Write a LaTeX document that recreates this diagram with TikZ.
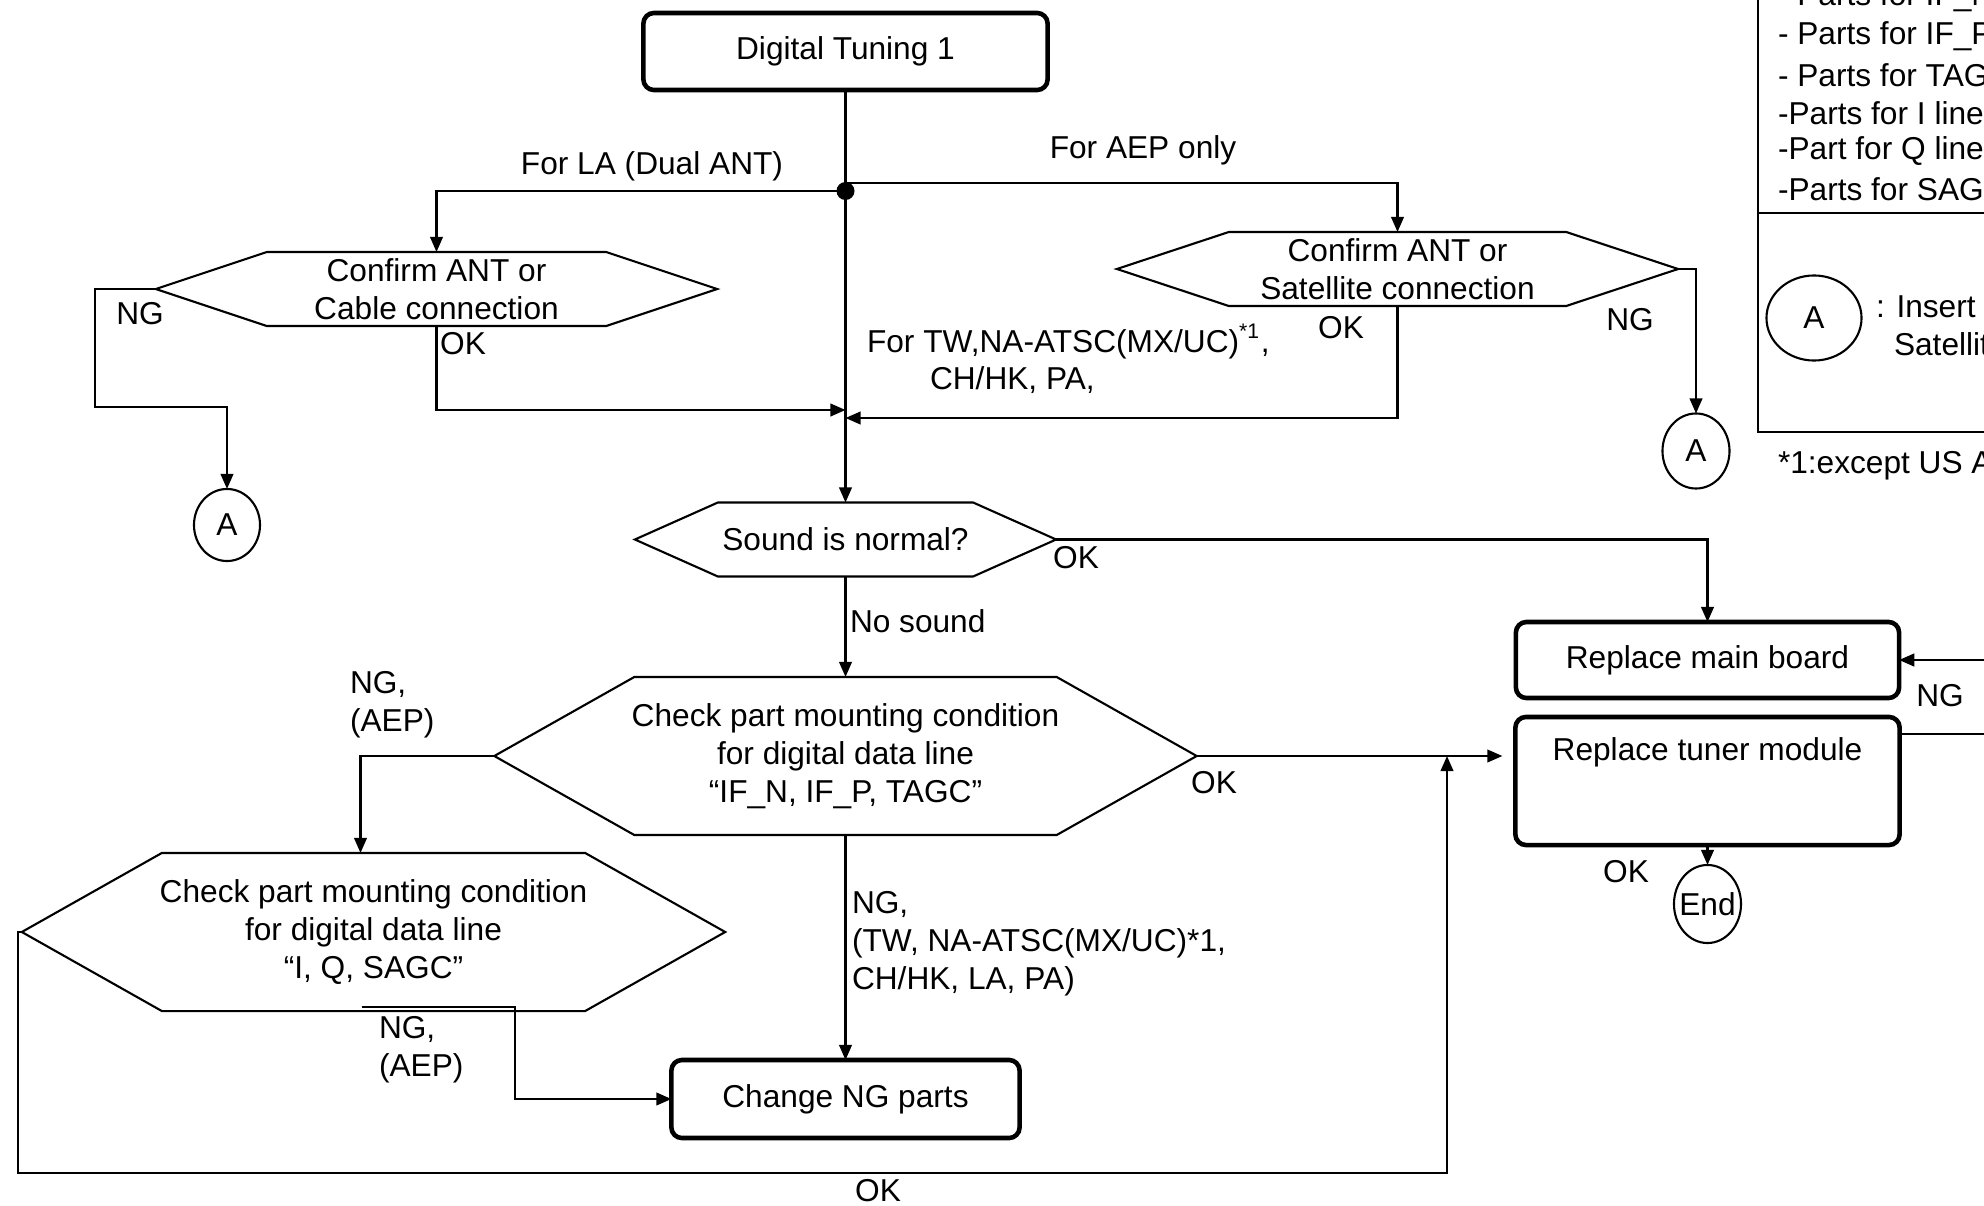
\documentclass[tikz,border=0pt]{standalone}
\usepackage{fontspec}
\setmainfont{Liberation Sans}
\usetikzlibrary{arrows.meta,calc,shapes.geometric}
\newcommand\hexpath[2]{\draw[hexline] (#1.west) -- ([xshift=#2]#1.north west) -- ([xshift=-#2]#1.north east) -- (#1.east) -- ([xshift=-#2]#1.south east) -- ([xshift=#2]#1.south west) -- cycle;}
\begin{document}
\begin{tikzpicture}[x=0.01cm,y=-0.01cm,
  every node/.style={font=\fontsize{9}{10.8}\selectfont, inner sep=0pt, outer sep=0pt},
  flow/.style={line width=0.6pt},
  hexline/.style={line width=0.6pt},
  arr/.style={flow,-{Triangle[length=4.3pt,width=3.6pt]}},
  box/.style={draw, line width=1.3pt, rounded corners=3pt, align=center},
  hexn/.style={align=center},
  conn/.style={draw, ellipse, line width=0.6pt},
  lbl/.style={align=left, anchor=west},
]
\useasboundingbox (0,0) rectangle (1984,1206);
\clip (0,0) rectangle (1984,1206);

% ---- nodes
\node[box, minimum width=4.04cm, minimum height=0.77cm] (start) at (845.5,51.5) {Digital Tuning 1};
\node[circle, fill, minimum size=0.18cm] (dot) at (845.5,191) {};

\node[hexn, minimum width=5.61cm, minimum height=0.74cm] (hexL) at (436.5,289) {Confirm ANT or\\Cable connection};
\hexpath{hexL}{1.11cm}
\node[hexn, minimum width=5.61cm, minimum height=0.74cm] (hexR) at (1397.5,269) {Confirm ANT or\\Satellite connection};
\hexpath{hexR}{1.12cm}

\node[conn, minimum width=0.66cm, minimum height=0.72cm] (cA1) at (227,525) {A};
\node[conn, minimum width=0.67cm, minimum height=0.75cm] (cA2) at (1696,451) {A};

\node[hexn, minimum width=4.21cm, minimum height=0.74cm] (sound) at (845.5,539.5) {Sound is normal?};
\hexpath{sound}{0.83cm}

\node[hexn, minimum width=7.02cm, minimum height=1.58cm] (check1) at (845.5,756) {Check part mounting condition\\for digital data line\\“IF\_N, IF\_P, TAGC”};
\hexpath{check1}{1.40cm}

\node[hexn, minimum width=7.03cm, minimum height=1.58cm] (check2) at (373.5,932) {Check part mounting condition\\for digital data line\\“I, Q, SAGC”};
\hexpath{check2}{1.40cm}

\node[box, minimum width=3.48cm, minimum height=0.78cm] (change) at (845.5,1099) {Change NG parts};

\node[box, minimum width=3.83cm, minimum height=0.76cm] (mainboard) at (1707.5,660) {Replace main board};
\node[box, minimum width=3.84cm, minimum height=1.28cm] (tuner) at (1707.5,781) {};
\node (tunertext) at (1707.5,752) {Replace tuner module};
\node[conn, minimum width=0.67cm, minimum height=0.78cm] (endc) at (1707.5,904) {};
\node (endtext) at (endc.center) {End};

% ---- connector labels
\node (lblLA) at (652,166) {For LA (Dual ANT)};
\node (lblAEP) at (1143,150) {For AEP only};
\node (ngL) at (140,314) {NG};
\node (okL) at (463,344) {OK};
\node (okR) at (1341,328) {OK};
\node (ngR) at (1630,320) {NG};
\node[anchor=base west] (tw1) at (867,352) {For TW,NA-ATSC(MX/UC)\textsuperscript{*1},};
\node[anchor=base west] (tw2) at (930,389) {CH/HK, PA,};
\node (okS) at (1076,558) {OK};
\node[lbl] (nosound) at (850,621) {No sound};
\node[lbl] (ngaep1) at (350,705) {NG,\\(AEP)};
\node[lbl] (ngaep2) at (379,1050) {NG,\\(AEP)};
\node[lbl] (ngtw) at (852,944) {NG,\\(TW, NA-ATSC(MX/UC)*1,\\CH/HK, LA, PA)};
\node (okC1) at (1214,783) {OK};
\node (okB) at (878,1191) {OK};
\node (ngMB) at (1940,696) {NG};
\node (okE) at (1626,872) {OK};

% ---- connectors
\draw[arr] (start.south) -- (sound.north);
\draw[arr] (dot.center) -| (hexL.north);
\draw[arr] ([yshift=0.08cm]dot.center) -| (hexR.north);
\draw[arr] (hexL.west) -| (95,407) -| (cA1.north);
\coordinate (m1) at (845.5,410);
\coordinate (m2) at (845.5,418);
\draw[arr] (hexL.south) |- (m1);
\draw[arr] (hexR.south) |- (m2);
\draw[arr] (hexR.east) -| (cA2.north);
\draw[arr] (sound.south) -- (check1.north);
\draw[arr] (sound.east) -| (mainboard.north);
\draw[arr, shorten >=0.13cm] (check1.east) -- (check1.east -| tuner.west);
\draw[arr] (check1.south) -- (change.north);
\draw[arr] (check1.west) -| ([xshift=-0.13cm]check2.north);
\draw[arr] ([xshift=-0.115cm,yshift=0.04cm]check2.south) -| ($(change.west)+(-156,0)$) -- (change.west);
\coordinate (okj) at (1447,756);
\draw[arr] (check2.west) -| (18,1173) -| (okj);
\draw[arr] (tuner.south) -- (endc.north);
\draw[arr] ([yshift=0.47cm]tuner.east) -- ++(150,0) |- (mainboard.east);

% ---- legend
\draw[line width=0.8pt] (1758,-30) rectangle (2100,432);
\draw[line width=0.8pt] (1758,213) -- (2100,213);
\node[lbl] (lg1) at (1778,-3) {- Parts for IF\_N};
\node[lbl] (lg2) at (1778,36) {- Parts for IF\_P};
\node[lbl] (lg3) at (1778,75) {- Parts for TAGC};
\node[lbl] (lg4) at (1778,113) {-Parts for I line};
\node[lbl] (lg5) at (1778,151) {-Part for Q line};
\node[lbl] (lg6) at (1778,189) {-Parts for SAGC};
\node[conn, minimum width=0.95cm, minimum height=0.85cm] (cA3) at (1814,318) {A};
\node[lbl] (ins1) at (1876,307) {: Insert};
\node[lbl] (ins2) at (1894,344) {Satellite};
\node[lbl] (foot) at (1778,466) {*1:except US ATSC};
\end{tikzpicture}
\end{document}
